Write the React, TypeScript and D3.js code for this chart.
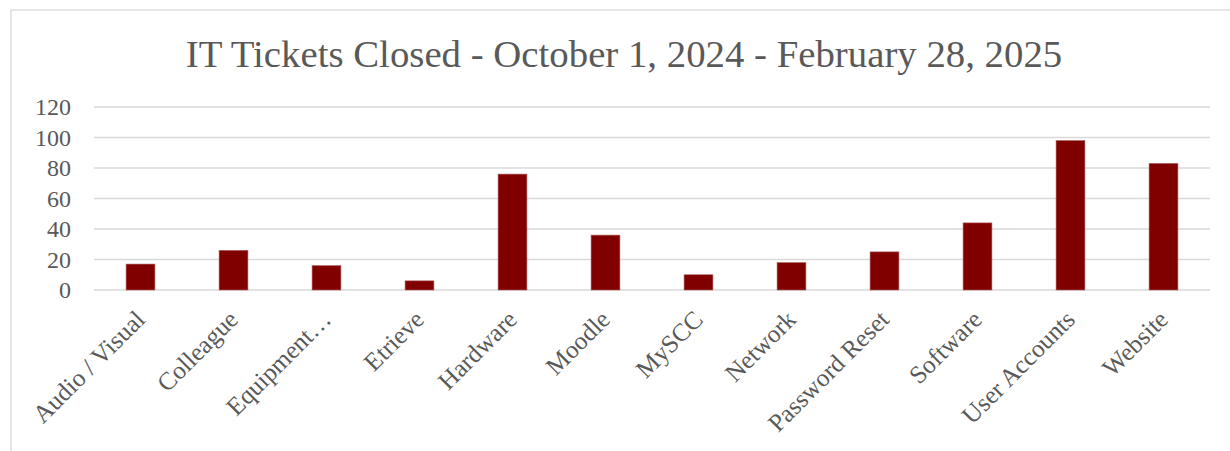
import * as d3 from 'd3'

const categories = [
  'Audio / Visual',
  'Colleague',
  'Equipment…',
  'Etrieve',
  'Hardware',
  'Moodle',
  'MySCC',
  'Network',
  'Password Reset',
  'Software',
  'User Accounts',
  'Website',
]
const ticketsClosed = [17, 26, 16, 6, 76, 36, 10, 18, 25, 44, 98, 83]
const yTicks = [0, 20, 40, 60, 80, 100, 120]

const TITLE = 'IT Tickets Closed - October 1, 2024 - February 28, 2025'
const W = 1230
const H = 451
const PLOT_LEFT = 94
const PLOT_RIGHT = 1210
const PLOT_TOP = 107
const PLOT_BOTTOM = 290
const FONT = '"Liberation Serif", Cambria, serif'
const TEXT = '#595959'
const GRID = '#d9d9d9'
const BAR = '#800000'

export default function App() {
  const x = d3
    .scaleBand<string>()
    .domain(categories)
    .range([PLOT_LEFT, PLOT_RIGHT])
    .paddingInner(0.69)
    .paddingOuter(0.345)
  const y = d3.scaleLinear().domain([0, 120]).range([PLOT_BOTTOM, PLOT_TOP])

  return (
    <div style={{ position: 'absolute', left: 0, top: 0 }}>
      <svg width={W} height={H} style={{ display: 'block' }}>
        <rect x={0} y={0} width={W} height={H} fill="white" />
        {/* chart border, runs off the right and bottom edges */}
        <rect x={11} y={10} width={W + 20} height={H + 20} fill="none" stroke={GRID} strokeWidth={1.3} />

        <text x={624} y={67} textAnchor="middle" fontFamily={FONT} fontSize={38.8} fill={TEXT}>
          {TITLE}
        </text>

        {/* gridlines */}
        {yTicks.map(t => (
          <line key={t} x1={PLOT_LEFT} x2={PLOT_RIGHT} y1={y(t)} y2={y(t)} stroke={GRID} strokeWidth={1.3} />
        ))}

        {/* y tick labels */}
        {yTicks.map(t => (
          <text key={t} x={71} y={y(t) + 8} textAnchor="end" fontFamily={FONT} fontSize={24} fill={TEXT}>
            {t}
          </text>
        ))}

        {/* bars */}
        {categories.map((c, i) => (
          <rect
            key={c}
            x={x(c)}
            y={y(ticketsClosed[i])}
            width={x.bandwidth()}
            height={y(0) - y(ticketsClosed[i])}
            fill={BAR}
            stroke="#b06060"
            strokeWidth={0.6}
          />
        ))}

        {/* category labels, rotated -45° */}
        {categories.map(c => {
          const cx = (x(c) ?? 0) + x.bandwidth() / 2
          const lx = cx + 6
          const ly = 321
          return (
            <text
              key={c}
              x={lx}
              y={ly}
              textAnchor="end"
              fontFamily={FONT}
              fontSize={25.2}
              fill={TEXT}
              transform={`rotate(-45 ${lx} ${ly})`}
            >
              {c}
            </text>
          )
        })}
      </svg>
    </div>
  )
}
